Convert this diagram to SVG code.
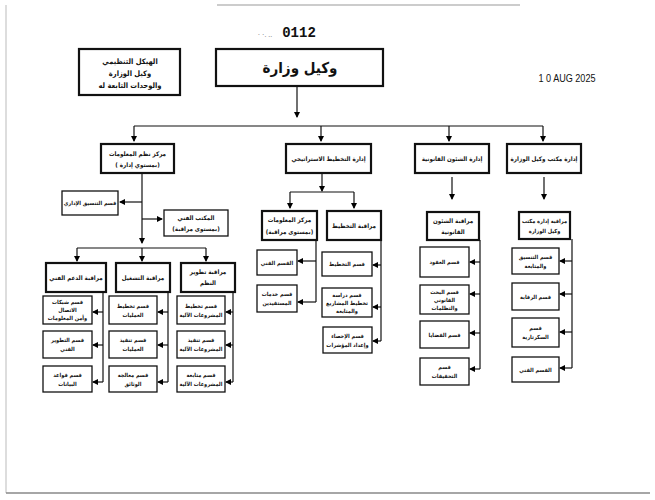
<svg xmlns="http://www.w3.org/2000/svg" width="655" height="500" viewBox="0 0 655 500">
<defs>
<marker id="ah" markerUnits="userSpaceOnUse" markerWidth="6" markerHeight="6" refX="5" refY="3" orient="auto">
<path d="M0,0 L6,3 L0,6 z" fill="#000"/>
</marker>
<style>
.b{fill:#fff;stroke:#111;stroke-width:1.3}
.h{fill:#fff;stroke:#111;stroke-width:2.2}
.c{fill:none;stroke:#111;stroke-width:1.2}
.a{fill:none;stroke:#111;stroke-width:1.2;marker-end:url(#ah)}
text{font-family:"DejaVu Sans Condensed","DejaVu Sans",sans-serif;font-stretch:condensed;font-weight:bold;fill:#111;text-anchor:middle}
.t2{font-size:6.2px}
.t3{font-size:5.6px}
.t1{font-size:7.5px}
</style>
</defs>
<rect x="0" y="0" width="655" height="500" fill="#fff"/>
<g id="frame" stroke="#bbb" fill="none">
<line x1="217" y1="5" x2="520" y2="5" stroke-width="1.5"/>
<line x1="6" y1="5" x2="6" y2="493" stroke-width="1"/>
<line x1="6" y1="493" x2="650" y2="493" stroke="#888" stroke-width="1.5"/>
</g>
<g id="stamp">
<text x="265" y="37" style="font-family:'Liberation Sans',sans-serif;font-size:7px;font-weight:normal;fill:#666">· ·. ..</text>
<text x="299" y="37" style="font-family:'Liberation Mono',monospace;font-size:14px;font-weight:bold">0112</text>
<text x="567" y="82" textLength="57" lengthAdjust="spacingAndGlyphs" style="font-family:'Liberation Sans',sans-serif;font-size:11px;font-weight:normal">1 0  AUG 2025</text>
</g>
<g id="connectors">
<path class="a" d="M297,86 V117"/>
<path class="c" d="M134,126 H543"/>
<path class="a" d="M134,126 V141"/><path class="a" d="M321,126 V141"/><path class="a" d="M449,126 V141"/><path class="a" d="M543,126 V141"/>
<path class="a" d="M142,173 V243"/>
<path class="a" d="M142,202 H120"/>
<path class="a" d="M142,219 H162"/>
<path class="c" d="M77,248 H206"/>
<path class="a" d="M77,248 V261"/><path class="a" d="M142,248 V261"/><path class="a" d="M206,248 V261"/>
<path class="c" d="M103,292 V382"/><path class="a" d="M103,312 H93"/><path class="a" d="M103,345 H93"/><path class="a" d="M103,382 H93"/>
<path class="c" d="M168,292 V382"/><path class="a" d="M168,312 H158"/><path class="a" d="M168,345 H158"/><path class="a" d="M168,382 H158"/>
<path class="c" d="M233,292 V382"/><path class="a" d="M233,312 H226"/><path class="a" d="M233,345 H226"/><path class="a" d="M233,382 H226"/>
<path class="a" d="M322,173 V191"/>
<path class="c" d="M290,192 H354"/>
<path class="a" d="M290,192 V208"/><path class="a" d="M354,192 V208"/>
<path class="c" d="M316,240 V302"/><path class="a" d="M316,261 H298"/><path class="a" d="M316,302 H298"/>
<path class="c" d="M381,240 V341"/><path class="a" d="M381,265 H373"/><path class="a" d="M381,307 H373"/><path class="a" d="M381,341 H373"/>
<path class="a" d="M452,177 V199"/>
<path class="c" d="M480,240 V369"/><path class="a" d="M480,262 H470"/><path class="a" d="M480,294 H470"/><path class="a" d="M480,333 H470"/><path class="a" d="M480,369 H470"/>
<path class="a" d="M544,177 V199"/>
<path class="c" d="M572,239 V368"/><path class="a" d="M572,261 H560"/><path class="a" d="M572,294 H560"/><path class="a" d="M572,332 H560"/><path class="a" d="M572,368 H560"/>
</g>
<g id="n-title"><rect class="h" x="79" y="49" width="101" height="46"/><text class="t1" x="130" y="64">الهيكل التنظيمي</text><text class="t1" x="130" y="76">وكيل الوزارة</text><text class="t1" x="130" y="88">والوحدات التابعة له</text></g>
<g id="n-top"><rect class="h" x="216" y="49" width="167" height="37"/><text x="300" y="73" style="font-size:15px">وكيل وزارة</text></g>
<g id="n-a"><rect class="h" x="101" y="144" width="73" height="29"/><text class="t2" x="137.5" y="156">مركز نظم المعلومات</text><text class="t2" x="137.5" y="167">( بمستوي إدارة)</text></g>
<g id="n-b"><rect class="h" x="286" y="144" width="85" height="29"/><text class="t2" x="328.5" y="161">إدارة التخطيط الاستراتيجي</text></g>
<g id="n-c"><rect class="h" x="415" y="144" width="74" height="29"/><text class="t2" x="452" y="161">إدارة الشئون القانونية</text></g>
<g id="n-d"><rect class="h" x="507" y="144" width="74" height="29"/><text class="t2" x="544" y="161">إدارة مكتب وكيل الوزارة</text></g>
<g id="n-a1"><rect class="b" x="62" y="191" width="56" height="24"/><text class="t3" x="90" y="205">قسم التنسيق الإداري</text></g>
<g id="n-a2"><rect class="b" x="164" y="210" width="64" height="26"/><text class="t2" x="196" y="220">المكتب الفني</text><text class="t2" x="196" y="231">(بمستوى مراقبة)</text></g>
<g id="n-m1"><rect class="h" x="46" y="263" width="60" height="29"/><text class="t2" x="76" y="280">مراقبة الدعم الفني</text></g>
<g id="n-m2"><rect class="h" x="116" y="263" width="54" height="29"/><text class="t2" x="143" y="280">مراقبة التشغيل</text></g>
<g id="n-m3"><rect class="h" x="181" y="263" width="54" height="29"/><text class="t2" x="208" y="274">مراقبة تطوير</text><text class="t2" x="208" y="285">النظم</text></g>
<g id="n-m1a"><rect class="b" x="43" y="296" width="49" height="28"/><text class="t3" x="67.5" y="304">قسم شبكات</text><text class="t3" x="67.5" y="312">الاتصال</text><text class="t3" x="67.5" y="320">وأمن المعلومات</text></g>
<g id="n-m1b"><rect class="b" x="43" y="331" width="49" height="27"/><text class="t3" x="67.5" y="342">قسم التطوير</text><text class="t3" x="67.5" y="351">الفني</text></g>
<g id="n-m1c"><rect class="b" x="43" y="366" width="49" height="26"/><text class="t3" x="67.5" y="377">قسم قواعد</text><text class="t3" x="67.5" y="386">البيانات</text></g>
<g id="n-m2a"><rect class="b" x="109" y="296" width="48" height="28"/><text class="t3" x="133" y="308">قسم تخطيط</text><text class="t3" x="133" y="317">العمليات</text></g>
<g id="n-m2b"><rect class="b" x="109" y="331" width="48" height="27"/><text class="t3" x="133" y="342">قسم تنفيذ</text><text class="t3" x="133" y="351">العمليات</text></g>
<g id="n-m2c"><rect class="b" x="109" y="366" width="48" height="26"/><text class="t3" x="133" y="377">قسم معالجة</text><text class="t3" x="133" y="386">الوثائق</text></g>
<g id="n-m3a"><rect class="b" x="177" y="296" width="48" height="28"/><text class="t3" x="201" y="308">قسم تخطيط</text><text class="t3" x="201" y="317">المشروعات الآلية</text></g>
<g id="n-m3b"><rect class="b" x="177" y="331" width="48" height="27"/><text class="t3" x="201" y="342">قسم تنفيذ</text><text class="t3" x="201" y="351">المشروعات الآلية</text></g>
<g id="n-m3c"><rect class="b" x="177" y="366" width="48" height="26"/><text class="t3" x="201" y="377">قسم متابعة</text><text class="t3" x="201" y="386">المشروعات الآلية</text></g>
<g id="n-b1"><rect class="h" x="262" y="211" width="55" height="29"/><text class="t2" x="289.5" y="222">مركز المعلومات</text><text class="t2" x="289.5" y="234">(بمستوى مراقبة)</text></g>
<g id="n-b2"><rect class="h" x="327" y="211" width="54" height="29"/><text class="t2" x="354" y="228">مراقبة التخطيط</text></g>
<g id="n-b1a"><rect class="b" x="257" y="250" width="40" height="25"/><text class="t3" x="277" y="265">القسم الفني</text></g>
<g id="n-b1b"><rect class="b" x="257" y="285" width="40" height="27"/><text class="t3" x="277" y="296">قسم خدمات</text><text class="t3" x="277" y="305">المستفيدين</text></g>
<g id="n-b2a"><rect class="b" x="322" y="252" width="50" height="24"/><text class="t3" x="347" y="266">قسم التخطيط</text></g>
<g id="n-b2b"><rect class="b" x="322" y="288" width="50" height="29"/><text class="t3" x="347" y="297">قسم دراسة</text><text class="t3" x="347" y="305">تخطيط المشاريع</text><text class="t3" x="347" y="313">والمتابعة</text></g>
<g id="n-b2c"><rect class="b" x="323" y="327" width="49" height="26"/><text class="t3" x="347.5" y="338">قسم الإحصاء</text><text class="t3" x="347.5" y="347">وإعداد المؤشرات</text></g>
<g id="n-c1"><rect class="h" x="427" y="212" width="52" height="28"/><text class="t2" x="453" y="223">مراقبة الشئون</text><text class="t2" x="453" y="234">القانونية</text></g>
<g id="n-c1a"><rect class="b" x="420" y="247" width="49" height="30"/><text class="t3" x="444.5" y="264">قسم العقود</text></g>
<g id="n-c1b"><rect class="b" x="420" y="285" width="49" height="29"/><text class="t3" x="444.5" y="294">قسم البحث</text><text class="t3" x="444.5" y="302">القانوني</text><text class="t3" x="444.5" y="310">والتظلمات</text></g>
<g id="n-c1c"><rect class="b" x="420" y="321" width="49" height="27"/><text class="t3" x="444.5" y="337">قسم القضايا</text></g>
<g id="n-c1d"><rect class="b" x="420" y="358" width="49" height="27"/><text class="t3" x="444.5" y="369">قسم</text><text class="t3" x="444.5" y="378">التحقيقات</text></g>
<g id="n-d1"><rect class="h" x="519" y="212" width="51" height="27"/><text class="t3" x="544.5" y="223">مراقبة إدارة مكتب</text><text class="t3" x="544.5" y="233">وكيل الوزارة</text></g>
<g id="n-d1a"><rect class="b" x="512" y="248" width="47" height="26"/><text class="t3" x="535.5" y="259">قسم التنسيق</text><text class="t3" x="535.5" y="268">والمتابعة</text></g>
<g id="n-d1b"><rect class="b" x="512" y="283" width="47" height="27"/><text class="t3" x="535.5" y="299">قسم الرقابة</text></g>
<g id="n-d1c"><rect class="b" x="512" y="318" width="47" height="29"/><text class="t3" x="535.5" y="330">قسم</text><text class="t3" x="535.5" y="339">السكرتارية</text></g>
<g id="n-d1d"><rect class="b" x="512" y="357" width="47" height="25"/><text class="t3" x="535.5" y="372">القسم الفني</text></g>
</svg>
